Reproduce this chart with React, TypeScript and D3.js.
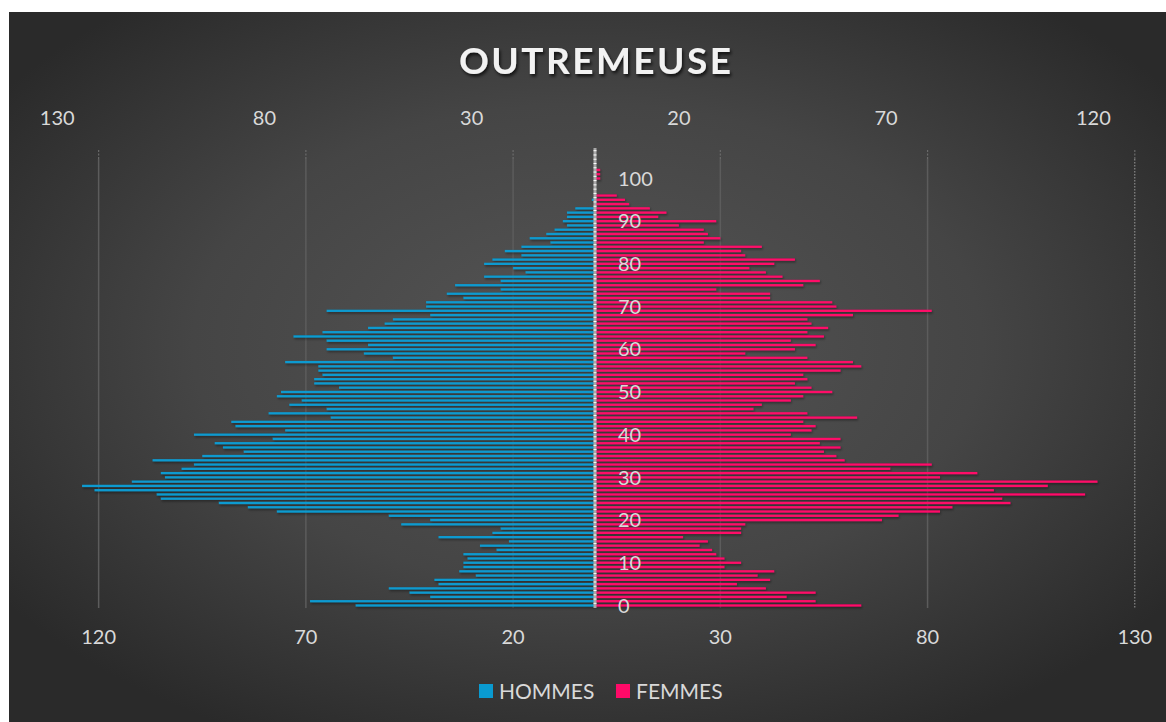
import React from 'react';
import * as d3 from 'd3';

// constants
const width = 1166;
const height = 722;

// population par âge (index = âge)
const hommes = [
  58, 69, 40, 45, 50, 38, 39, 29, 33, 32,
  32, 31, 32, 24, 28, 21, 38, 25, 23, 47,
  40, 50, 77, 84, 91, 105, 106, 121, 124, 112,
  104, 105, 100, 97, 107, 95, 85, 90, 92, 78,
  97, 75, 87, 88, 64, 79, 65, 74, 71, 77,
  76, 62, 68, 68, 66, 67, 67, 75, 49, 56,
  65, 55, 65, 73, 66, 55, 51, 49, 40, 65,
  41, 41, 32, 36, 23, 34, 23, 27, 17, 20,
  27, 25, 18, 22, 18, 11, 16, 12, 10, 7,
  8, 7, 7, 5, 0, 1, 0, 0, 0, 0,
  0, 0, 0
];
const femmes = [
  64, 53, 46, 53, 41, 34, 42, 39, 43, 31,
  35, 31, 29, 28, 25, 27, 21, 35, 35, 36,
  69, 73, 83, 86, 100, 98, 118, 96, 109, 121,
  83, 92, 71, 81, 60, 58, 55, 59, 54, 59,
  47, 52, 53, 50, 63, 51, 38, 40, 47, 50,
  57, 52, 48, 51, 50, 59, 64, 62, 51, 36,
  48, 53, 47, 55, 51, 56, 52, 51, 62, 81,
  58, 57, 42, 42, 29, 50, 54, 45, 41, 37,
  43, 48, 36, 35, 40, 26, 30, 27, 26, 20,
  29, 15, 17, 13, 8, 7, 5, 0, 0, 0,
  1, 1, 1
];
const nbCategories = 107;
const ageTicks = [0, 10, 20, 30, 40, 50, 60, 70, 80, 90, 100];
const bottomTicks = [-120, -70, -20, 30, 80, 130];
const topTicks = [-130, -80, -30, 20, 70, 120];

const colHommes = '#0a9ad0';
const colFemmes = '#ff0a68';
const font = "Lato, 'Open Sans', sans-serif";
const labelColor = '#d9d9d9';

const App = () => {
  const x = d3.scaleLinear().domain([-130, 130]).range([57.2, 1134.8]);
  const ages = d3.range(nbCategories);
  const y = d3.scaleBand<number>()
    .domain(ages.slice().reverse())
    .range([150.7, 607.6])
    .paddingInner(0.47)
    .paddingOuter(0.235);
  const bw = y.bandwidth();
  const yc = (a: number) => (y(a) as number) + bw / 2;
  const x0 = x(0);
  const top = 150;
  const bottom = 608;

  return (
    <svg width={width} height={height} style={{ position: 'absolute', left: 0, top: 0 }}>
      <defs>
        <radialGradient id="bg" cx="50%" cy="47%" r="62%">
          <stop offset="0%" stopColor="#555555" />
          <stop offset="55%" stopColor="#454545" />
          <stop offset="100%" stopColor="#2a2a2a" />
        </radialGradient>
        <filter id="barShadow" x="-5%" y="-200%" width="110%" height="500%">
          <feDropShadow dx="1" dy="1.5" stdDeviation="1.2" floodColor="#000" floodOpacity="0.45" />
        </filter>
        <filter id="titleShadow" x="-10%" y="-30%" width="120%" height="160%">
          <feDropShadow dx="1.5" dy="2.5" stdDeviation="1.5" floodColor="#000" floodOpacity="0.7" />
        </filter>
      </defs>
      <rect x={0} y={0} width={width} height={height} fill="#ffffff" />
      <rect x={9} y={12} width={width - 9} height={height - 12} fill="url(#bg)" />

      {/* titre */}
      <text x={595} y={74} textAnchor="middle" fill="#f2f2f2" fontFamily={font} fontWeight={700}
        fontSize={37} textLength={272} lengthAdjust="spacing" filter="url(#titleShadow)">OUTREMEUSE</text>

      {/* grille */}
      {bottomTicks.map((t, i) => (
        <g key={'g' + t}>
          <line x1={x(t)} x2={x(t)} y1={top} y2={top + 9} stroke="#6a6a6a" strokeWidth={1.2} strokeDasharray="2,1.5" />
          <line x1={x(t)} x2={x(t)} y1={top + 9} y2={bottom}
            stroke={i === bottomTicks.length - 1 ? '#9a9a9a' : '#5c5c5c'}
            strokeWidth={i === bottomTicks.length - 1 ? 1 : 1.5}
            strokeDasharray={i === bottomTicks.length - 1 ? '1.5,1.5' : undefined} />
        </g>
      ))}

      {/* barres */}
      <g filter="url(#barShadow)">
        {hommes.map((v, a) => v > 0 && (
          <rect key={'h' + a} x={x(-v)} y={y(a)} width={x0 - x(-v)} height={bw} fill={colHommes} />
        ))}
        {femmes.map((v, a) => v > 0 && (
          <rect key={'f' + a} x={x0} y={y(a)} width={x(v) - x0} height={bw} fill={colFemmes} />
        ))}
      </g>

      {/* axe central */}
      <line x1={x0 - 1} x2={x0 - 1} y1={top - 2} y2={bottom} stroke="#a8a8a8" strokeWidth={3} />
      {ages.map(a => (
        <line key={'t' + a} x1={x0 - 2.5} x2={x0 + 0.5} y1={(y(a) as number) - y.step() * 0.235} y2={(y(a) as number) - y.step() * 0.235}
          stroke="#ffffff" strokeWidth={1} />
      ))}

      {/* étiquettes d'âge */}
      {ageTicks.map(a => (
        <text key={'a' + a} x={618} y={yc(a)} dy="0.36em" fill={labelColor} fontFamily={font} fontSize={20}>{a}</text>
      ))}

      {/* axe du haut */}
      {topTicks.map(t => (
        <text key={'tt' + t} x={x(t)} y={118} dy="0.36em" textAnchor="middle" fill={labelColor} fontFamily={font} fontSize={20}>{Math.abs(t)}</text>
      ))}
      {/* axe du bas */}
      {bottomTicks.map(t => (
        <text key={'bt' + t} x={x(t)} y={637} dy="0.36em" textAnchor="middle" fill={labelColor} fontFamily={font} fontSize={20}>{Math.abs(t)}</text>
      ))}

      {/* légende */}
      <rect x={479} y={684} width={14} height={14} fill={colHommes} />
      <text x={499} y={691} dy="0.36em" fill={labelColor} fontFamily={font} fontSize={21}>HOMMES</text>
      <rect x={616} y={684} width={14} height={14} fill={colFemmes} />
      <text x={636} y={691} dy="0.36em" fill={labelColor} fontFamily={font} fontSize={21}>FEMMES</text>
    </svg>
  );
};

export default App;
